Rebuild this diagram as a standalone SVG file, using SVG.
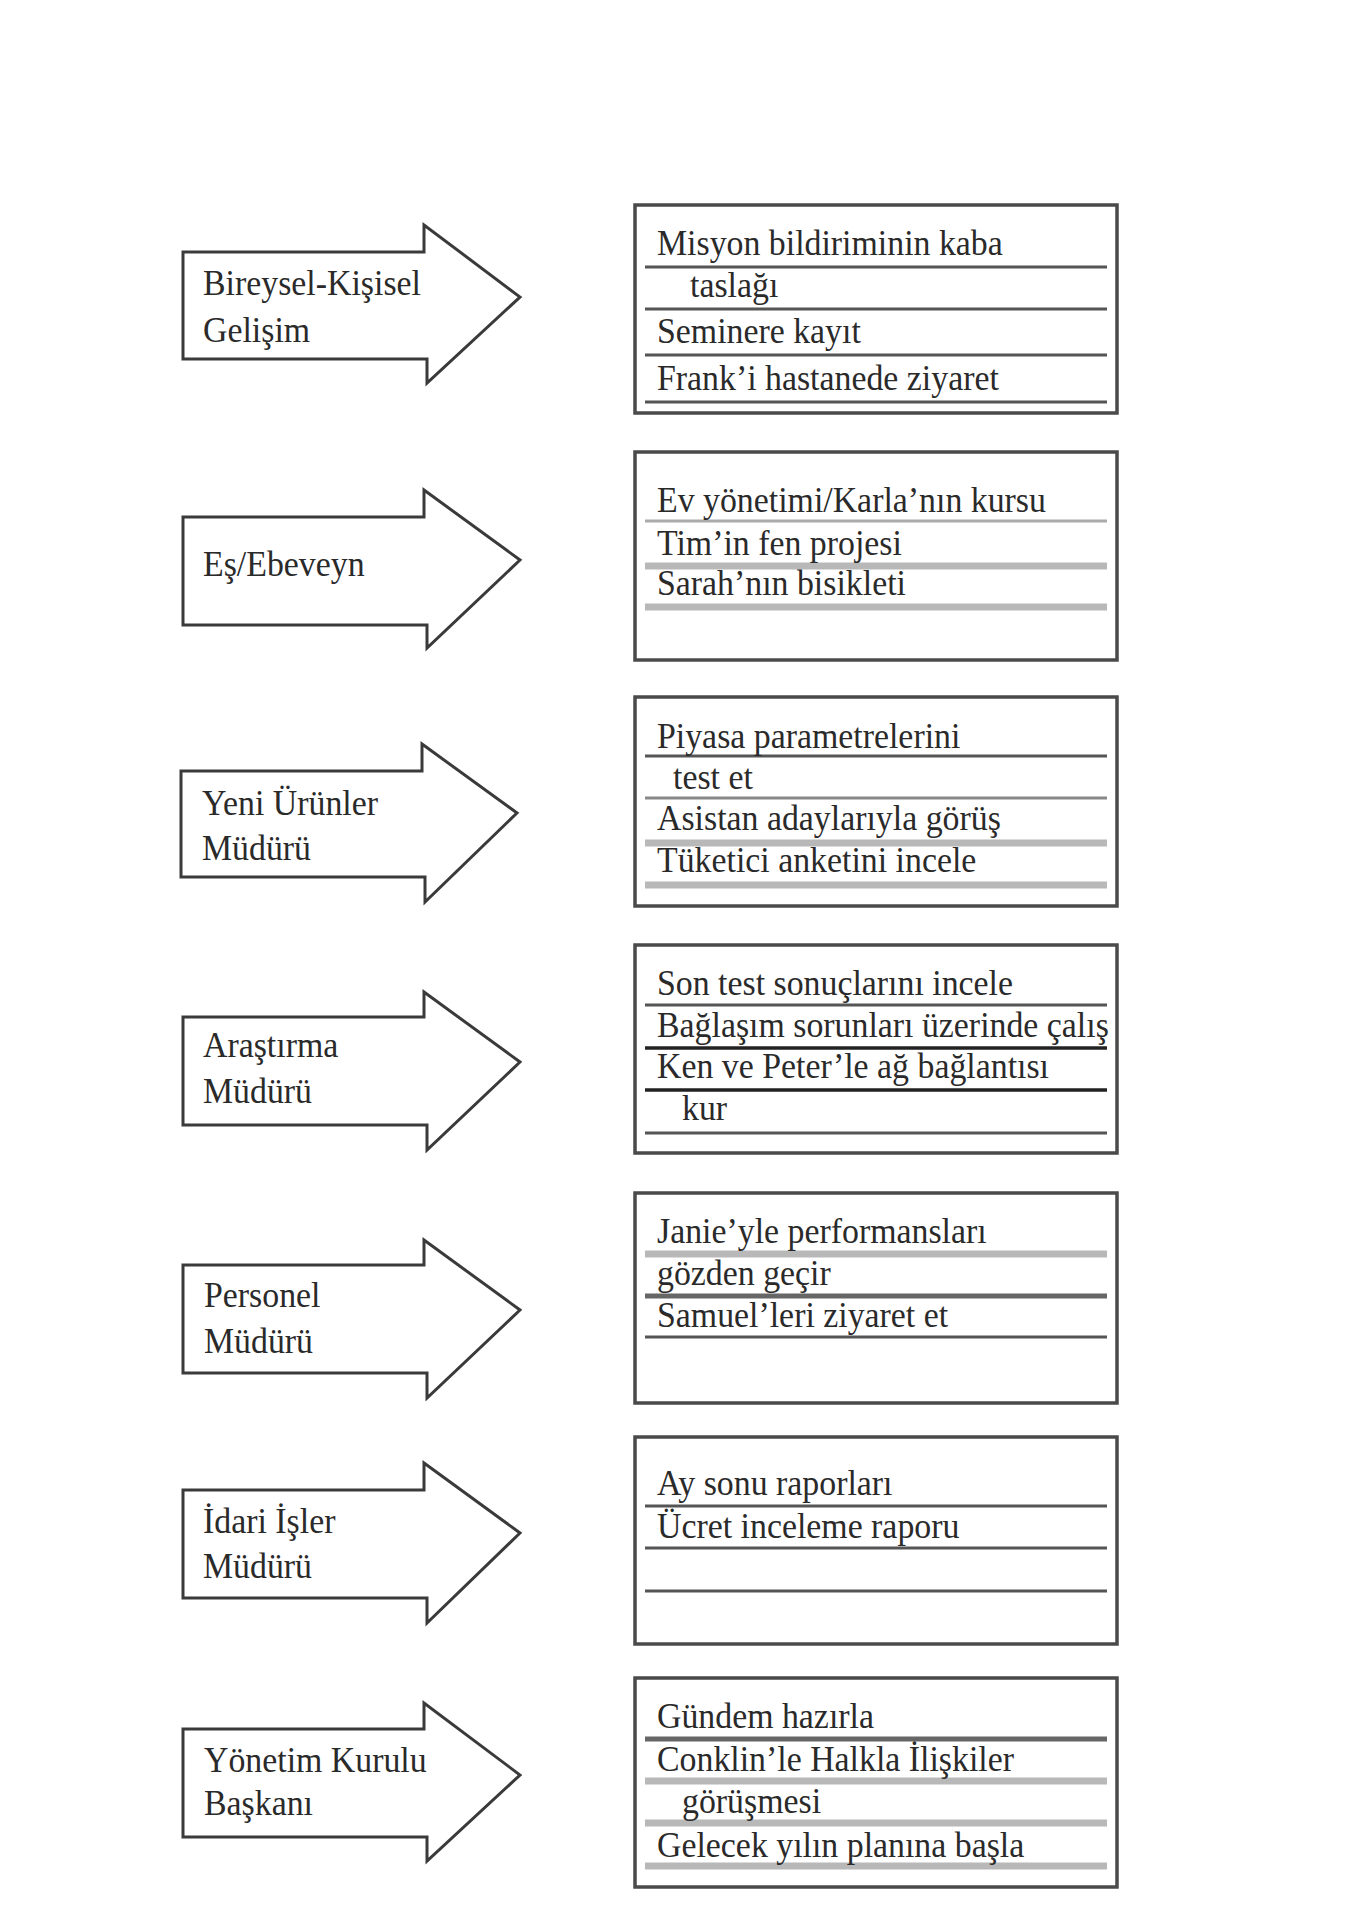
<svg xmlns="http://www.w3.org/2000/svg" width="1355" height="1932" viewBox="0 0 1355 1932">
<style>
.bg{fill:#fff}
.arrow{fill:#fff;stroke:#3a3a3a;stroke-width:3;stroke-linejoin:miter}
.box{fill:#fff;stroke:#4a4a4a;stroke-width:3.5}
.t{font-family:"Liberation Serif","Times New Roman",serif;font-size:36px;fill:#2a2a2a}
.ld{stroke:#555;stroke-width:3}
.lk{stroke:#222;stroke-width:3.5}
.lm{stroke:#666;stroke-width:5}
.lg{stroke:#aaa;stroke-width:3}
.lt{stroke:#b8b8b8;stroke-width:7}
</style>
<rect class="bg" x="0" y="0" width="1355" height="1932"/>

<g id="arrows">
<g id="arrow1"><path class="arrow" d="M183,252 L424,252 L424,225 L520,297 L427,383 L427,359 L183,359 Z"/>
<text class="t" transform="translate(203 295) scale(0.94 1)">Bireysel-Kişisel</text>
<text class="t" transform="translate(203 342) scale(0.94 1)">Gelişim</text></g>
<g id="arrow2"><path class="arrow" d="M183,517 L424,517 L424,490 L520,560 L427,648 L427,625 L183,625 Z"/>
<text class="t" transform="translate(203 576) scale(0.94 1)">Eş/Ebeveyn</text></g>
<g id="arrow3"><path class="arrow" d="M181,771 L422,771 L422,744 L517,813 L425,902 L425,877 L181,877 Z"/>
<text class="t" transform="translate(202 815) scale(0.94 1)">Yeni Ürünler</text>
<text class="t" transform="translate(202 860) scale(0.94 1)">Müdürü</text></g>
<g id="arrow4"><path class="arrow" d="M183,1017 L424,1017 L424,992 L520,1062 L427,1150 L427,1125 L183,1125 Z"/>
<text class="t" transform="translate(203 1057) scale(0.94 1)">Araştırma</text>
<text class="t" transform="translate(203 1103) scale(0.94 1)">Müdürü</text></g>
<g id="arrow5"><path class="arrow" d="M183,1265 L424,1265 L424,1240 L520,1310 L427,1398 L427,1373 L183,1373 Z"/>
<text class="t" transform="translate(204 1307) scale(0.94 1)">Personel</text>
<text class="t" transform="translate(204 1353) scale(0.94 1)">Müdürü</text></g>
<g id="arrow6"><path class="arrow" d="M183,1490 L424,1490 L424,1463 L520,1533 L427,1623 L427,1598 L183,1598 Z"/>
<text class="t" transform="translate(203 1533) scale(0.94 1)">İdari İşler</text>
<text class="t" transform="translate(203 1578) scale(0.94 1)">Müdürü</text></g>
<g id="arrow7"><path class="arrow" d="M183,1729 L424,1729 L424,1703 L520,1775 L427,1861 L427,1837 L183,1837 Z"/>
<text class="t" transform="translate(204 1772) scale(0.94 1)">Yönetim Kurulu</text>
<text class="t" transform="translate(204 1815) scale(0.94 1)">Başkanı</text></g>
</g>

<g id="box1">
<rect class="box" x="635" y="205" width="482" height="208"/>
<line class="ld" x1="645" y1="267" x2="1107" y2="267"/>
<line class="ld" x1="645" y1="309" x2="1107" y2="309"/>
<line class="ld" x1="645" y1="355" x2="1107" y2="355"/>
<line class="ld" x1="645" y1="402" x2="1107" y2="402"/>
<text class="t" transform="translate(657 255) scale(0.94 1)">Misyon bildiriminin kaba</text>
<text class="t" transform="translate(690 297) scale(0.94 1)">taslağı</text>
<text class="t" transform="translate(657 343) scale(0.94 1)">Seminere kayıt</text>
<text class="t" transform="translate(657 390) scale(0.94 1)">Frank’i hastanede ziyaret</text>
</g>

<g id="box2">
<rect class="box" x="635" y="452" width="482" height="208"/>
<line class="lg" x1="645" y1="521" x2="1107" y2="521"/>
<line class="lt" x1="645" y1="566" x2="1107" y2="566"/>
<line class="lt" x1="645" y1="607" x2="1107" y2="607"/>
<text class="t" transform="translate(657 512) scale(0.94 1)">Ev yönetimi/Karla’nın kursu</text>
<text class="t" transform="translate(657 555) scale(0.94 1)">Tim’in fen projesi</text>
<text class="t" transform="translate(657 595) scale(0.94 1)">Sarah’nın bisikleti</text>
</g>

<g id="box3">
<rect class="box" x="635" y="697" width="482" height="209"/>
<line class="ld" x1="645" y1="756" x2="1107" y2="756"/>
<line class="lg" x1="645" y1="798" x2="1107" y2="798" style="stroke:#888"/>
<line class="lt" x1="645" y1="843" x2="1107" y2="843"/>
<line class="lt" x1="645" y1="885" x2="1107" y2="885"/>
<text class="t" transform="translate(657 748) scale(0.94 1)">Piyasa parametrelerini</text>
<text class="t" transform="translate(673 789) scale(0.94 1)">test et</text>
<text class="t" transform="translate(657 830) scale(0.94 1)">Asistan adaylarıyla görüş</text>
<text class="t" transform="translate(657 872) scale(0.94 1)">Tüketici anketini incele</text>
</g>

<g id="box4">
<rect class="box" x="635" y="945" width="482" height="208"/>
<line class="ld" x1="645" y1="1005" x2="1107" y2="1005"/>
<line class="lk" x1="645" y1="1048" x2="1107" y2="1048"/>
<line class="lk" x1="645" y1="1090" x2="1107" y2="1090"/>
<line class="ld" x1="645" y1="1133" x2="1107" y2="1133"/>
<text class="t" transform="translate(657 995) scale(0.94 1)">Son test sonuçlarını incele</text>
<text class="t" transform="translate(657 1037) scale(0.94 1)">Bağlaşım sorunları üzerinde çalış</text>
<text class="t" transform="translate(657 1078) scale(0.94 1)">Ken ve Peter’le ağ bağlantısı</text>
<text class="t" transform="translate(682 1120) scale(0.94 1)">kur</text>
</g>

<g id="box5">
<rect class="box" x="635" y="1193" width="482" height="210"/>
<line class="lt" x1="645" y1="1254" x2="1107" y2="1254"/>
<line class="lm" x1="645" y1="1296" x2="1107" y2="1296"/>
<line class="ld" x1="645" y1="1337" x2="1107" y2="1337"/>
<text class="t" transform="translate(657 1243) scale(0.94 1)">Janie’yle performansları</text>
<text class="t" transform="translate(657 1285) scale(0.94 1)">gözden geçir</text>
<text class="t" transform="translate(657 1327) scale(0.94 1)">Samuel’leri ziyaret et</text>
</g>

<g id="box6">
<rect class="box" x="635" y="1437" width="482" height="207"/>
<line class="ld" x1="645" y1="1506" x2="1107" y2="1506"/>
<line class="ld" x1="645" y1="1548" x2="1107" y2="1548"/>
<line class="ld" x1="645" y1="1591" x2="1107" y2="1591"/>
<text class="t" transform="translate(657 1495) scale(0.94 1)">Ay sonu raporları</text>
<text class="t" transform="translate(657 1538) scale(0.94 1)">Ücret inceleme raporu</text>
</g>

<g id="box7">
<rect class="box" x="635" y="1678" width="482" height="209"/>
<line class="lm" x1="645" y1="1739" x2="1107" y2="1739"/>
<line class="lt" x1="645" y1="1781" x2="1107" y2="1781"/>
<line class="lt" x1="645" y1="1823" x2="1107" y2="1823"/>
<line class="lt" x1="645" y1="1866" x2="1107" y2="1866"/>
<text class="t" transform="translate(657 1728) scale(0.94 1)">Gündem hazırla</text>
<text class="t" transform="translate(657 1771) scale(0.94 1)">Conklin’le Halkla İlişkiler</text>
<text class="t" transform="translate(682 1813) scale(0.94 1)">görüşmesi</text>
<text class="t" transform="translate(657 1857) scale(0.94 1)">Gelecek yılın planına başla</text>
</g>
</svg>
